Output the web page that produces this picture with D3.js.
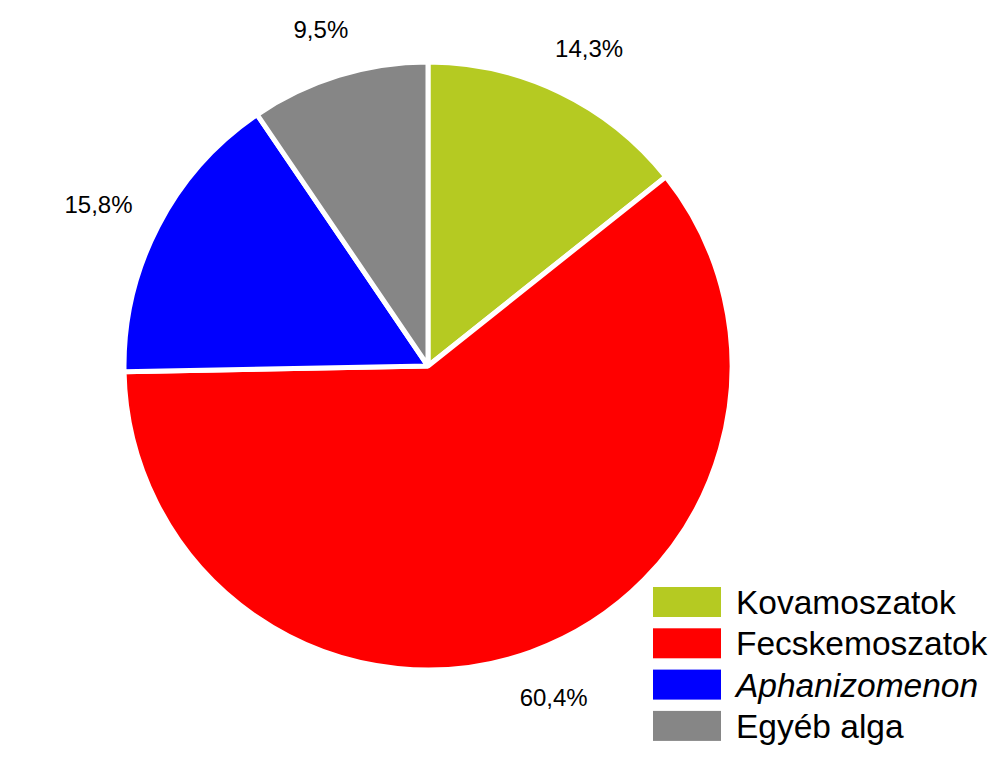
<!DOCTYPE html>
<html>
<head>
<meta charset="utf-8">
<script src="https://cdn.jsdelivr.net/npm/d3@7"></script>
<style>
  body { margin: 0; background: #fff; }
  svg { display: block; font-family: "Liberation Sans", Arial, sans-serif; }
</style>
</head>
<body>
<div id="chart"></div>
<script>
// Data
const categories = ['Kovamoszatok', 'Fecskemoszatok', 'Aphanizomenon', 'Egyéb alga'];
const values = [14.3, 60.4, 15.8, 9.5];
const labels = ['14,3%', '60,4%', '15,8%', '9,5%'];
const colors = ['#b5ca22', '#ff0000', '#0000ff', '#868686'];
const italic = [false, false, true, false];

const width = 1000, height = 765;
const cx = 428, cy = 366, radius = 304;

const svg = d3.select('#chart').append('svg')
    .attr('width', width)
    .attr('height', height);

const data = categories.map((c, i) => ({ name: c, value: values[i], label: labels[i], color: colors[i] }));

const pie = d3.pie()
    .sort(null)
    .value(d => d.value);

const arc = d3.arc()
    .innerRadius(0)
    .outerRadius(radius);

const g = svg.append('g')
    .attr('transform', `translate(${cx},${cy})`);

const arcs = pie(data);

g.selectAll('path')
    .data(arcs)
    .enter().append('path')
    .attr('d', arc)
    .attr('fill', d => d.data.color)
    .attr('stroke', '#fff')
    .attr('stroke-width', 5)
    .attr('stroke-linejoin', 'bevel');

// labels outside the slices, pushed out by half the text box
const gap = 33;
const lbl = g.selectAll('text.lbl')
    .data(arcs)
    .enter().append('text')
    .attr('class', 'lbl')
    .attr('font-size', 24)
    .attr('fill', '#000')
    .attr('text-anchor', 'middle')
    .attr('dy', '0.35em')
    .text(d => d.data.label);

lbl.each(function(d) {
    const a = (d.startAngle + d.endAngle) / 2;
    const w = this.getBBox().width, h = 30;
    const sx = Math.sin(a), sy = -Math.cos(a);
    const x = sx * (radius + gap) + sx * w / 2;
    const y = sy * (radius + gap) + sy * h / 2;
    d3.select(this).attr('x', x).attr('y', y);
});

// legend
const legend = svg.append('g')
    .attr('transform', 'translate(653,587)');

const row = legend.selectAll('g')
    .data(data)
    .enter().append('g')
    .attr('transform', (d, i) => `translate(0,${i * 41.3})`);

row.append('rect')
    .attr('width', 68)
    .attr('height', 30)
    .attr('fill', d => d.color);

row.append('text')
    .attr('x', 83)
    .attr('y', 15)
    .attr('dy', '0.36em')
    .attr('font-size', 33.5)
    .attr('font-style', (d, i) => italic[i] ? 'italic' : 'normal')
    .attr('fill', '#000')
    .text(d => d.name);
</script>
</body>
</html>
